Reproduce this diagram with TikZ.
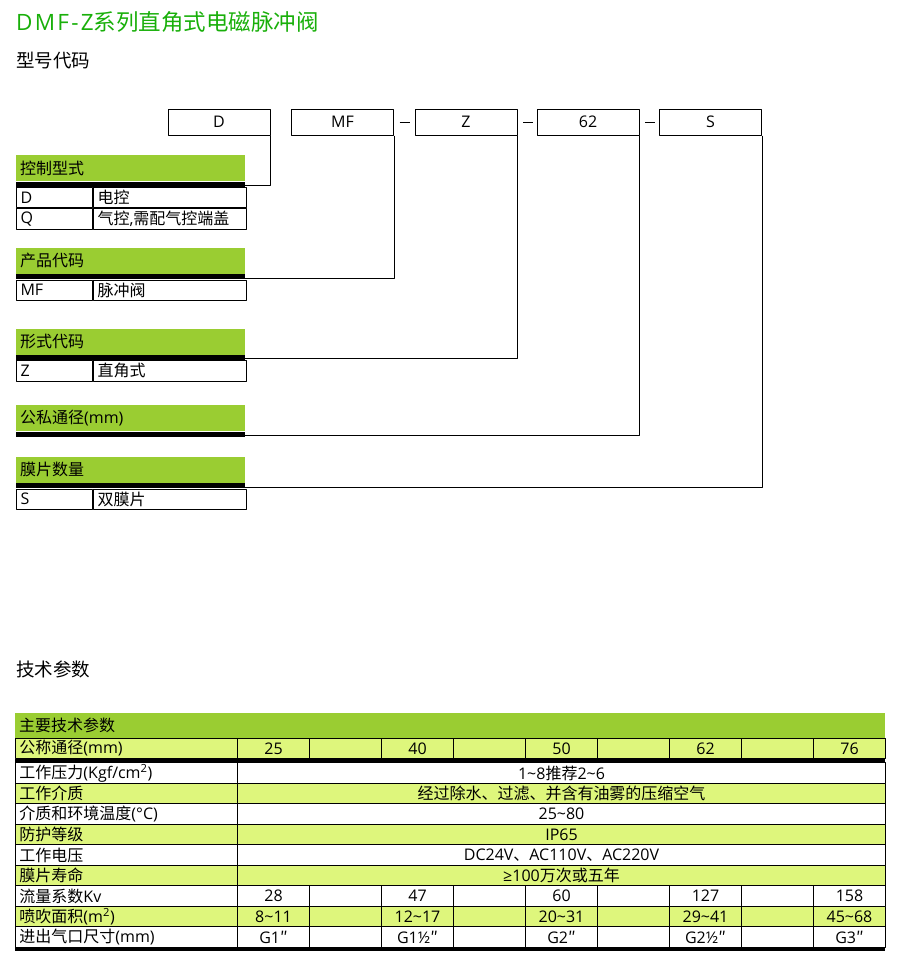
\documentclass[tikz,border=0pt]{standalone}
\usepackage{fontspec}
\setmainfont{Open Sans}
\newfontfamily\cjkfont{Noto Sans CJK SC}
\newfontfamily\latfont{Open Sans}
\newfontfamily\ttlfont[LetterSpace=10]{Open Sans}
% CJK characters switch to the CJK font
\XeTeXinterchartokenstate=1
\newXeTeXintercharclass\cjkcls
\newcount\cccnt
\cccnt="3000 \loop\XeTeXcharclass\cccnt=\cjkcls \advance\cccnt by 1 \ifnum\cccnt<"3040 \repeat
\cccnt="4E00 \loop\XeTeXcharclass\cccnt=\cjkcls \advance\cccnt by 1 \ifnum\cccnt<"A000 \repeat
\cccnt="FF00 \loop\XeTeXcharclass\cccnt=\cjkcls \advance\cccnt by 1 \ifnum\cccnt<"FFF0 \repeat
\XeTeXcharclass"2033=\cjkcls
\XeTeXinterchartoks 0 \cjkcls = {\cjkfont}
\XeTeXinterchartoks 4095 \cjkcls = {\cjkfont}
\XeTeXinterchartoks \cjkcls 0 = {\latfont}
\usetikzlibrary{positioning}
\definecolor{hdgreen}{RGB}{154,205,50}
\definecolor{ltgreen}{RGB}{222,246,124}
\definecolor{ttlgreen}{RGB}{25,175,10}
\begin{document}
\begin{tikzpicture}[x=1pt,y=-1pt,line join=round,
	txt/.style={font=\fontsize{16}{18}\selectfont},
	conn/.style={line width=1pt},
	codebox/.style={draw,line width=1pt,minimum width=102pt,minimum height=26pt,inner sep=0pt,txt},
	hdr/.style={fill=hdgreen,anchor=north west,minimum height=26pt,text width=221pt,inner xsep=4pt,inner ysep=0pt,txt},
	bnd/.style={fill=black,minimum width=229pt,minimum height=5pt,inner sep=0pt},
	code/.style={draw,line width=1pt,minimum height=20.5pt,text width=68pt,inner xsep=4pt,inner ysep=0pt,txt},
	desc/.style={draw,line width=1pt,minimum height=20.5pt,text width=145pt,inner xsep=4pt,inner ysep=0pt,txt},
	lcell/.style={draw,line width=1pt,anchor=north west,minimum height=20.5pt,text width=214pt,inner xsep=4pt,inner ysep=0pt,txt},
	mcell/.style={draw,line width=1pt,anchor=north west,minimum height=20.5pt,text width=640pt,align=center,inner xsep=4pt,inner ysep=0pt,txt},
	vcell/.style={draw,line width=1pt,anchor=north west,minimum height=20.5pt,text width=64pt,align=center,inner xsep=4pt,inner ysep=0pt,txt}]
	\useasboundingbox (0,0) rectangle (900,962);
	\node[anchor=west,inner sep=0pt,text=ttlgreen,font=\fontsize{22.5}{24}\selectfont] (title) at (16,22) {{\ttlfont DMF-Z}系列直角式电磁脉冲阀};
	\node[anchor=west,inner sep=0pt,font=\fontsize{18.5}{20}\selectfont] (xhdm) at (16,61) {型号代码};
	\node[anchor=west,inner sep=0pt,font=\fontsize{18.5}{20}\selectfont] (jscs) at (16,669) {技术参数};
	% code boxes
	\foreach \n/\t/\x in {cD/D/219,cMF/MF/342.5,cZ/Z/466,c62/62/588,cS/S/710.5}
		\node[codebox] (\n) at (\x,122) {\t};
	\foreach \a in {cMF,cZ,c62}
		\draw[conn] ([xshift=5.5pt]\a.east) -- ([xshift=15.5pt]\a.east);
	% 控制型式
	\node[hdr] (kzH) at (16,155) {控制型式};
	\node[bnd,below=0pt of kzH] (kzB) {};
	\node[code,below right=0pt and 0pt of kzB.south west] (kzD) {D};
	\node[desc,right=0pt of kzD] (kzDd) {电控};
	\node[code,below=0pt of kzD] (kzQ) {Q};
	\node[desc,right=0pt of kzQ] (kzQd) {气控,需配气控端盖};
	% 产品代码
	\node[hdr] (cpH) at (16,247.7) {产品代码};
	\node[bnd,below=0pt of cpH] (cpB) {};
	\node[code,below right=0pt and 0pt of cpB.south west] (cpMF) {MF};
	\node[desc,right=0pt of cpMF] (cpMFd) {脉冲阀};
	% 形式代码
	\node[hdr] (xsH) at (16,328.3) {形式代码};
	\node[bnd,below=0pt of xsH] (xsB) {};
	\node[code,below right=0pt and 0pt of xsB.south west] (xsZ) {Z};
	\node[desc,right=0pt of xsZ] (xsZd) {直角式};
	% 公私通径
	\node[hdr] (gjH) at (16,405) {公私通径(mm)};
	\node[bnd,below=0pt of gjH] (gjB) {};
	% 膜片数量
	\node[hdr] (mpH) at (16,456.7) {膜片数量};
	\node[bnd,below=0pt of mpH] (mpB) {};
	\node[code,below right=0pt and 0pt of mpB.south west] (mpS) {S};
	\node[desc,right=0pt of mpS] (mpSd) {双膜片};
	% connectors
	\draw[conn] (cD.south east) |- ([yshift=-1.5pt]kzB.east);
	\draw[conn] (cMF.south east) |- ([yshift=-1.5pt]cpB.east);
	\draw[conn] (cZ.south east) |- ([yshift=-1.5pt]xsB.east);
	\draw[conn] (c62.south east) |- ([yshift=-1.5pt]gjB.east);
	\draw[conn] (cS.south east) |- ([yshift=-1.5pt]mpB.east);
	% 主要技术参数
	\node[fill=hdgreen,anchor=north west,minimum height=25.4pt,text width=862pt,inner xsep=4pt,inner ysep=0pt,txt] (tbH) at (15,712.3) {主要技术参数};
	\node[lcell,fill=ltgreen] (dnL) at (15,737.7) {公称通径(mm)};
	\foreach \k/\v in {0/25,1/,2/40,3/,4/50,5/,6/62,7/,8/76}
		\node[vcell,fill=ltgreen] (dn\k) at ({237+72*\k},737.7) {\v};
	\node[fill=black,anchor=north west,minimum width=870pt,minimum height=4pt,inner sep=0pt] (tbB) at (15,758.3) {};
	\foreach \r/\lab/\fc/\val in {
		0/{工作压力(Kgf/cm\textsuperscript{2})}/white/{1\textasciitilde8推荐2\textasciitilde6},
		1/工作介质/ltgreen/经过除水、过滤、并含有油雾的压缩空气,
		2/介质和环境温度(°C)/white/25\textasciitilde80,
		3/防护等级/ltgreen/IP65,
		4/工作电压/white/DC24V、AC110V、AC220V,
		5/膜片寿命/ltgreen/≥100万次或五年}{
		\node[lcell,fill=\fc] (L\r) at (15,{762.3+20.5*\r}) {\lab};
		\node[mcell,fill=\fc] (V\r) at (237,{762.3+20.5*\r}) {\val};
	}
	\foreach \r/\lab/\fc/\a/\b/\c/\d/\e in {
		6/流量系数Kv/white/28/47/60/127/158,
		7/{喷吹面积(m\textsuperscript{2})}/ltgreen/8\textasciitilde11/12\textasciitilde17/20\textasciitilde31/29\textasciitilde41/45\textasciitilde68,
		8/进出气口尺寸(mm)/white/G1″/G1½″/G2″/G2½″/G3″}{
		\node[lcell,fill=\fc] (L\r) at (15,{762.3+20.5*\r}) {\lab};
		\foreach \k/\v in {0/\a,1/,2/\b,3/,4/\c,5/,6/\d,7/,8/\e}
			\node[vcell,fill=\fc] (V\r-\k) at ({237+72*\k},{762.3+20.5*\r}) {\v};
	}
	\node[fill=black,anchor=north west,minimum width=870pt,minimum height=4pt,inner sep=0pt] (tbE) at (15,946.8) {};
\end{tikzpicture}
\end{document}
